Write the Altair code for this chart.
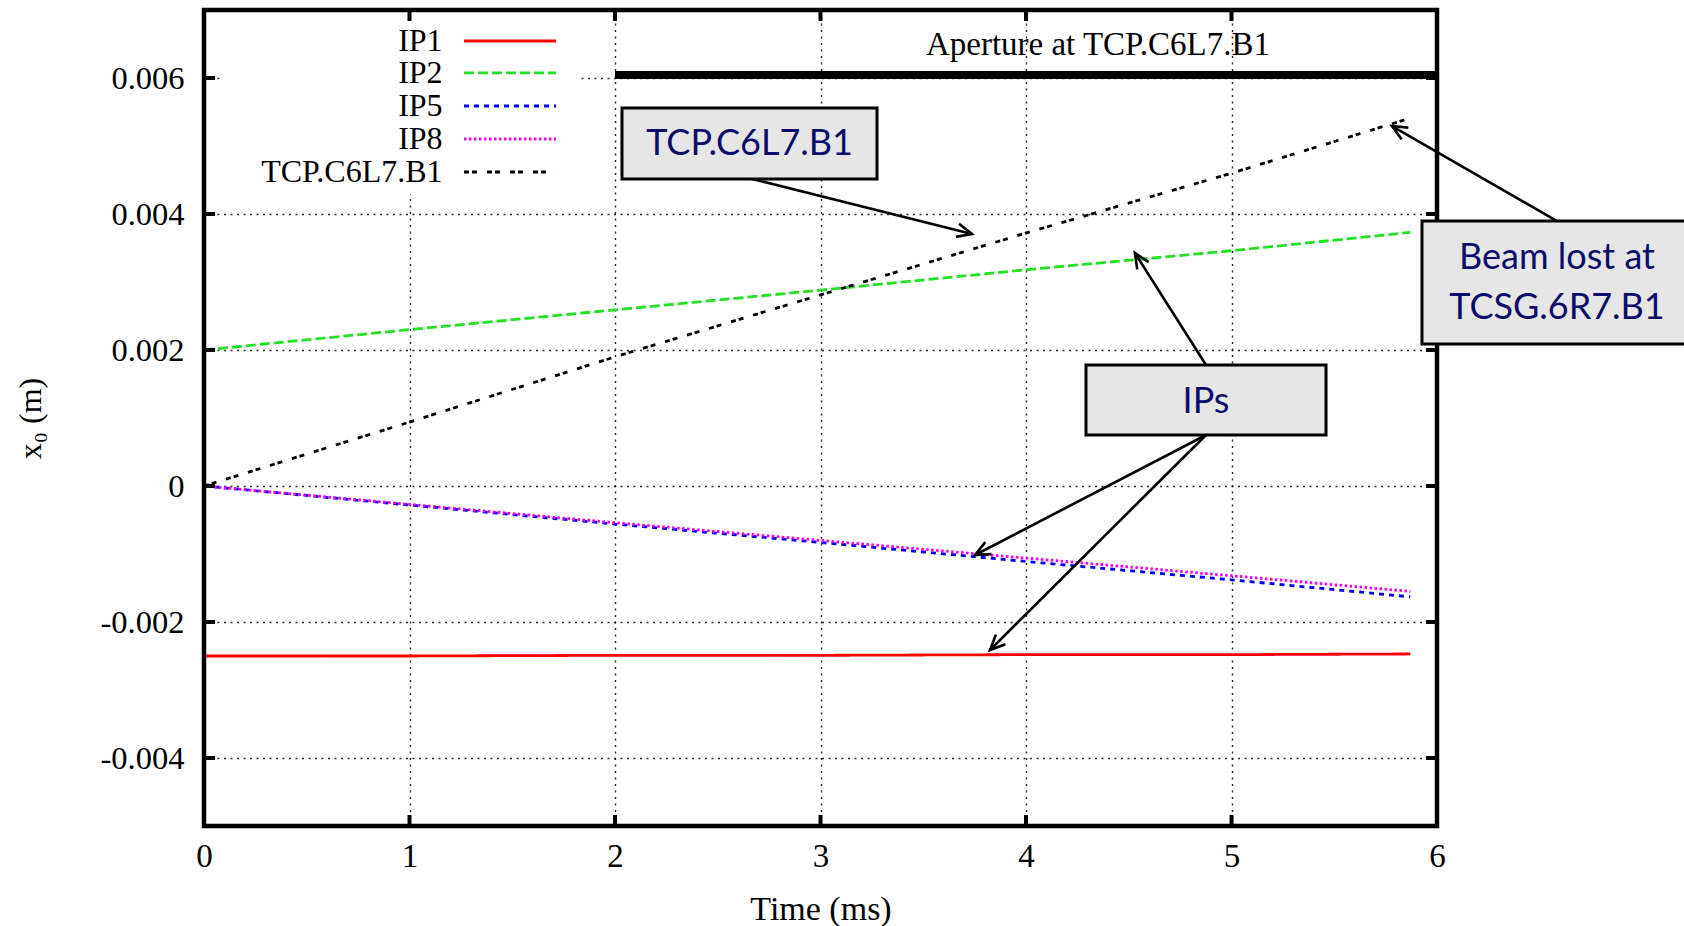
import altair as alt
import pandas as pd
import numpy as np

W, H = 1233, 816
SERIF = "Liberation Serif"
SANS = "Lato"

# ---- data ----
times = [0, 1, 2, 3, 4, 5, 5.87]
ip1 = [-0.00250, -0.00250, -0.00249, -0.00249, -0.00248, -0.00248, -0.00247]
ip2 = [0.00200, 0.00230, 0.00259, 0.00288, 0.00318, 0.00346, 0.00373]
ip5 = [0.0, -0.00028, -0.00056, -0.00083, -0.00111, -0.00138, -0.00163]
ip8 = [0.0, -0.00027, -0.00054, -0.00080, -0.00106, -0.00132, -0.00155]
tcp = [0.0, 0.00094, 0.00190, 0.00281, 0.00372, 0.00460, 0.00541]

series_names = ["IP1", "IP2", "IP5", "IP8", "TCP.C6L7.B1"]
series_colors = ["#ff0000", "#22e022", "#0000ee", "#ee00ee", "#000000"]
series_dash = [[1, 0], [10, 4], [5, 5], [2.5, 2.5], [5, 3, 5, 10]]

x_ticks = [0, 1, 2, 3, 4, 5, 6]
y_ticks = [-0.004, -0.002, 0, 0.002, 0.004, 0.006]

# legend (key) placement in data units
key_label_x = 1.161
key_line_x1 = 1.265
key_line_x2 = 1.713
key_rows_y = [0.006544, 0.006074, 0.005588, 0.005103, 0.004618]
key_blank = dict(x1=0.078, x2=1.815, y1=0.006926, y2=0.004294)

# aperture
aperture_y = 0.006044
aperture_x = [2, 6]
aperture_label = "Aperture at TCP.C6L7.B1"
aperture_label_pos = (4.35, 0.006485)

# annotation boxes
box_x1 = [2.034, 4.292, 5.927]
box_x2 = [3.275, 5.460, 7.212]
box_y1 = [0.005559, 0.001779, 0.003897]
box_y2 = [0.004515, 0.000750, 0.002088]
box_texts = ["TCP.C6L7.B1", "IPs", "Beam lost at", "TCSG.6R7.B1"]
box_tx = [2.655, 4.876, 6.584, 6.584]
box_ty = [0.005029, 0.001240, 0.003353, 0.002618]

# arrows
arr_x0 = [2.667, 4.876, 4.876, 4.876, 6.584]
arr_y0 = [0.004515, 0.001779, 0.000750, 0.000750, 0.003897]
arr_x1 = [3.737, 4.530, 3.752, 3.825, 5.781]
arr_y1 = [0.003706, 0.003426, -0.001015, -0.002412, 0.005294]

# ---- tables ----
rows = []
for name, vals in zip(series_names, [ip1, ip2, ip5, ip8, tcp]):
    for t, v in zip(times, vals):
        rows.append({"t": t, "x0": v, "series": name})
lines_df = pd.DataFrame(rows)

key_df = pd.DataFrame({
    "series": series_names,
    "lx": [key_label_x] * 5,
    "x1": [key_line_x1] * 5,
    "x2": [key_line_x2] * 5,
    "y": key_rows_y,
})

xs = alt.Scale(domain=[0, 6], nice=False, zero=False)
ys = alt.Scale(domain=[-0.005, 0.007], nice=False, zero=False)
cs = alt.Scale(domain=series_names, range=series_colors)
ds = alt.Scale(domain=series_names, range=series_dash)

xaxis = alt.Axis(values=x_ticks, grid=True, gridColor="#000", gridDash=[2, 4.5], gridWidth=1.4,
                 gridOpacity=0.85, ticks=False, tickSize=0, domain=False,
                 labelFont=SERIF, labelFontSize=33, labelColor="#000", labelPadding=14,
                 labelFlush=False, labelOverlap=False, labelBound=False,
                 title="Time (ms)", titleFont=SERIF, titleFontSize=34, titleFontWeight="normal",
                 titleColor="#000", titleX=W / 2, titleY=83, titleBaseline="middle", titleAlign="center")
yaxis = alt.Axis(values=y_ticks, grid=True, gridColor="#000", gridDash=[2, 4.5], gridWidth=1.4,
                 gridOpacity=0.85, ticks=False, tickSize=0, domain=False,
                 labelFont=SERIF, labelFontSize=32.5, labelColor="#000", labelPadding=20,
                 labelFlush=False, labelOverlap=False, labelBound=False,
                 labelExpr="datum.value == 0 ? '0' : replace(format(datum.value, '.3f'), '\u2212', '-')",
                 title="x\u2080 (m)", titleFont=SERIF, titleFontSize=32, titleFontWeight="normal",
                 titleColor="#000", titleX=-174, titleY=408, titleAngle=270,
                 titleBaseline="middle", titleAlign="center")


def X(field):
    return alt.X(field, scale=xs, axis=xaxis)


def Y(field):
    return alt.Y(field, scale=ys, axis=yaxis)


lines = alt.Chart(lines_df).mark_line(strokeWidth=2.8).encode(
    x=X("t:Q"),
    y=Y("x0:Q"),
    color=alt.Color("series:N", scale=cs, legend=None),
    strokeDash=alt.StrokeDash("series:N", scale=ds, legend=None),
    detail="series:N",
)

blank = alt.Chart(pd.DataFrame([key_blank])).mark_rect(fill="white").encode(
    x=X("x1:Q"), x2="x2:Q", y=Y("y1:Q"), y2="y2:Q",
)

key_lines = alt.Chart(key_df).mark_rule(strokeWidth=2.8).encode(
    x=X("x1:Q"), x2="x2:Q", y=Y("y:Q"),
    color=alt.Color("series:N", scale=cs, legend=None),
    strokeDash=alt.StrokeDash("series:N", scale=ds, legend=None),
)
key_text = alt.Chart(key_df).mark_text(align="right", baseline="middle", font=SERIF,
                                       fontSize=32, color="#000").encode(
    x=X("lx:Q"), y=Y("y:Q"), text="series:N",
)

ap_df = pd.DataFrame({"xa": [aperture_x[0]], "xb": [aperture_x[1]], "y": [aperture_y],
                      "lx": [aperture_label_pos[0]], "ly": [aperture_label_pos[1]],
                      "label": [aperture_label]})
aperture = alt.Chart(ap_df).mark_rule(strokeWidth=8, color="#000").encode(
    x=X("xa:Q"), x2="xb:Q", y=Y("y:Q"),
)
aperture_text = alt.Chart(ap_df).mark_text(align="center", baseline="middle", font=SERIF,
                                           fontSize=33, color="#000").encode(
    x=X("lx:Q"), y=Y("ly:Q"), text="label:N",
)

xt_df = pd.DataFrame({"v": x_ticks[1:-1]})
yt_df = pd.DataFrame({"v": y_ticks})
TL = 11
tick_style = dict(color="#000", strokeWidth=4)
xt_bottom = alt.Chart(xt_df).mark_rule(**tick_style).encode(
    x=X("v:Q"), y=alt.value(H - TL), y2=alt.value(H))
xt_top = alt.Chart(xt_df).mark_rule(**tick_style).encode(
    x=X("v:Q"), y=alt.value(0), y2=alt.value(TL))
yt_left = alt.Chart(yt_df).mark_rule(**tick_style).encode(
    y=Y("v:Q"), x=alt.value(0), x2=alt.value(TL))
yt_right = alt.Chart(yt_df).mark_rule(**tick_style).encode(
    y=Y("v:Q"), x=alt.value(W - TL), x2=alt.value(W))

frame = alt.Chart(pd.DataFrame({"a": [0]})).mark_rect(
    fillOpacity=0, stroke="#000", strokeWidth=4.5).encode(
    x=alt.value(0), x2=alt.value(W), y=alt.value(0), y2=alt.value(H))

arr_df = pd.DataFrame({"xa": arr_x0, "ya": arr_y0, "xb": arr_x1, "yb": arr_y1})
dxp = (arr_df["xb"] - arr_df["xa"]) * W / 6.0
dyp = -(arr_df["yb"] - arr_df["ya"]) * H / 0.012
arr_df["ang"] = (np.degrees(np.arctan2(dxp, -dyp)) + 360) % 360

arrows = alt.Chart(arr_df).mark_rule(strokeWidth=2.6, color="#000").encode(
    x=X("xa:Q"), x2="xb:Q", y=Y("ya:Q"), y2="yb:Q",
)
heads = alt.Chart(arr_df).mark_point(
    shape="M -0.45 1 L 0 0 L 0.45 1", filled=False, stroke="#000", strokeWidth=2.6,
    size=900, opacity=1).encode(
    x=X("xb:Q"), y=Y("yb:Q"),
    angle=alt.Angle("ang:Q", scale=None),
)

box_df = pd.DataFrame({"x1": box_x1, "x2": box_x2, "y1": box_y1, "y2": box_y2})
boxes = alt.Chart(box_df).mark_rect(fill="#e6e6e6", stroke="#000", strokeWidth=3).encode(
    x=X("x1:Q"), x2="x2:Q", y=Y("y1:Q"), y2="y2:Q",
)
bt_df = pd.DataFrame({"text": box_texts, "x": box_tx, "y": box_ty})
box_text = alt.Chart(bt_df).mark_text(align="center", baseline="middle", font=SANS,
                                      fontSize=36, color="#0c0c6a").encode(
    x=X("x:Q"), y=Y("y:Q"), text="text:N",
)

chart = alt.layer(
    blank, lines, key_lines, key_text, aperture, aperture_text,
    xt_bottom, xt_top, yt_left, yt_right, frame, arrows, heads, boxes, box_text,
).properties(
    width=W, height=H,
    padding={"left": 204, "top": 10, "right": 247, "bottom": 100},
    autosize="none",
    background="white",
).configure_view(strokeOpacity=0)

chart.save("out.html", embed_options={"renderer": "svg", "actions": False})
